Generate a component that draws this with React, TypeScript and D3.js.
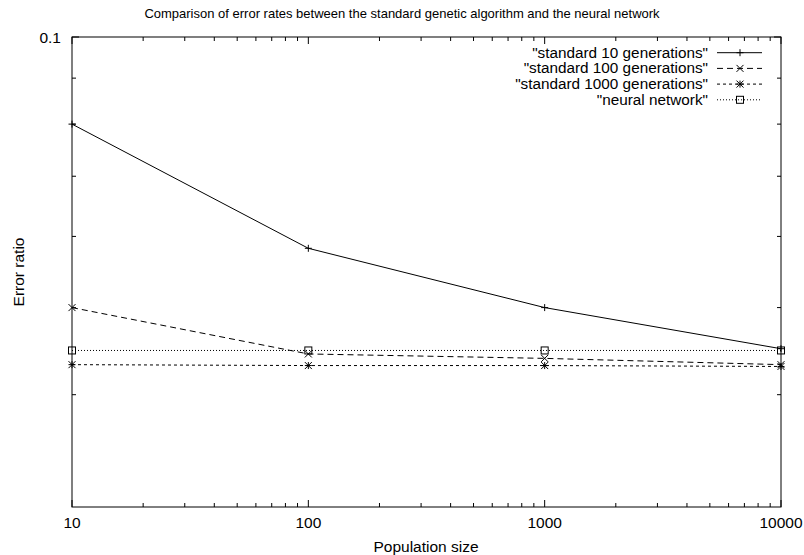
import React from "react";
import * as d3 from "d3";

const populations = [10, 100, 1000, 10000];
const std10 = [0.08, 0.0582, 0.0500, 0.0450];
const std100 = [0.0500, 0.0444, 0.0439, 0.0432];
const std1000 = [0.0432, 0.0431, 0.0431, 0.0430];
const neural = [0.0448, 0.0448, 0.0448, 0.0448];
const seriesNames = ['"standard 10 generations"', '"standard 100 generations"', '"standard 1000 generations"', '"neural network"'];
const xTickLabels = ["10", "100", "1000", "10000"];
const yMajorTicks = [0.1];
const yMinorTicks = [0.04, 0.05, 0.06, 0.07, 0.08, 0.09];

const W = 804, H = 555;
const L = 72, R = 781, T = 37, B = 507;
const FONT = "Liberation Sans, Arial, sans-serif";
const FS = 15.5;

function Marker({ kind, x, y }: { kind: number; x: number; y: number }) {
  const s = 3.5;
  const st = { stroke: "#000", strokeWidth: 1, fill: "none" } as const;
  if (kind === 0) return <path d={`M${x - s},${y}H${x + s}M${x},${y - s}V${y + s}`} {...st} />;
  if (kind === 1) return <path d={`M${x - s},${y - s}L${x + s},${y + s}M${x - s},${y + s}L${x + s},${y - s}`} {...st} />;
  if (kind === 2) return <path d={`M${x - s},${y}H${x + s}M${x},${y - s}V${y + s}M${x - s},${y - s}L${x + s},${y + s}M${x - s},${y + s}L${x + s},${y - s}`} {...st} />;
  return <rect x={x - s} y={y - s} width={2 * s} height={2 * s} {...st} />;
}

export default function App() {
  const x = d3.scaleLog().domain([10, 10000]).range([L, R]);
  const y = d3.scaleLog().domain([0.03, 0.1]).range([B, T]);
  const all = [std10, std100, std1000, neural];
  const dashes = ["none", "6,4", "3,3", "1,2"];
  const line = d3.line<number>().x((_, i) => x(populations[i])).y((d) => y(d));

  const xMinor: number[] = [];
  for (let dec = 10; dec < 10000; dec *= 10) for (let k = 2; k <= 9; k++) xMinor.push(dec * k);

  return (
    <svg width={W} height={H} style={{ position: "absolute", left: 0, top: 0, background: "#fff" }} fontFamily={FONT}>
      <rect x={0} y={0} width={W} height={H} fill="#fff" />
      {populations.map((p) => (
        <g key={"xM" + p}>
          <line x1={x(p)} x2={x(p)} y1={B} y2={B - 7} stroke="#000" />
          <line x1={x(p)} x2={x(p)} y1={T} y2={T + 7} stroke="#000" />
        </g>
      ))}
      {xMinor.map((p) => (
        <g key={"xm" + p}>
          <line x1={x(p)} x2={x(p)} y1={B} y2={B - 4} stroke="#000" />
          <line x1={x(p)} x2={x(p)} y1={T} y2={T + 4} stroke="#000" />
        </g>
      ))}
      {yMinorTicks.map((v) => (
        <g key={"ym" + v}>
          <line x1={L} x2={L + 4} y1={y(v)} y2={y(v)} stroke="#000" />
          <line x1={R} x2={R - 4} y1={y(v)} y2={y(v)} stroke="#000" />
        </g>
      ))}
      {yMajorTicks.map((v) => (
        <g key={"yM" + v}>
          <line x1={L} x2={L + 7} y1={y(v)} y2={y(v)} stroke="#000" />
          <line x1={R} x2={R - 7} y1={y(v)} y2={y(v)} stroke="#000" />
          <text x={L - 11} y={y(v) + 5.5} textAnchor="end" fontSize={FS}>{String(v)}</text>
        </g>
      ))}
      {populations.map((p, i) => (
        <text key={"xl" + p} x={x(p)} y={B + 21} textAnchor="middle" fontSize={FS}>{xTickLabels[i]}</text>
      ))}
      {all.map((s, si) => (
        <g key={"s" + si}>
          <path d={line(s) || ""} fill="none" stroke="#000" strokeWidth={1} strokeDasharray={dashes[si]} />
          {s.map((v, i) => <Marker key={i} kind={si} x={x(populations[i])} y={y(v)} />)}
        </g>
      ))}
      <rect x={L} y={T} width={R - L} height={B - T} fill="none" stroke="#000" strokeWidth={1} />
      {seriesNames.map((n, i) => {
        const ly = 52.7 + i * 15.7;
        return (
          <g key={"lg" + i}>
            <text x={708} y={ly + 5} textAnchor="end" fontSize={15.3}>{n}</text>
            <line x1={717} x2={762} y1={ly} y2={ly} stroke="#000" strokeDasharray={dashes[i]} />
            <Marker kind={i} x={740} y={ly} />
          </g>
        );
      })}
      <text x={402} y={18} textAnchor="middle" fontSize={13}>Comparison of error rates between the standard genetic algorithm and the neural network</text>
      <text x={426} y={552} textAnchor="middle" fontSize={FS}>Population size</text>
      <text transform={`translate(23.5,${272}) rotate(-90)`} textAnchor="middle" fontSize={FS}>Error ratio</text>
    </svg>
  );
}
